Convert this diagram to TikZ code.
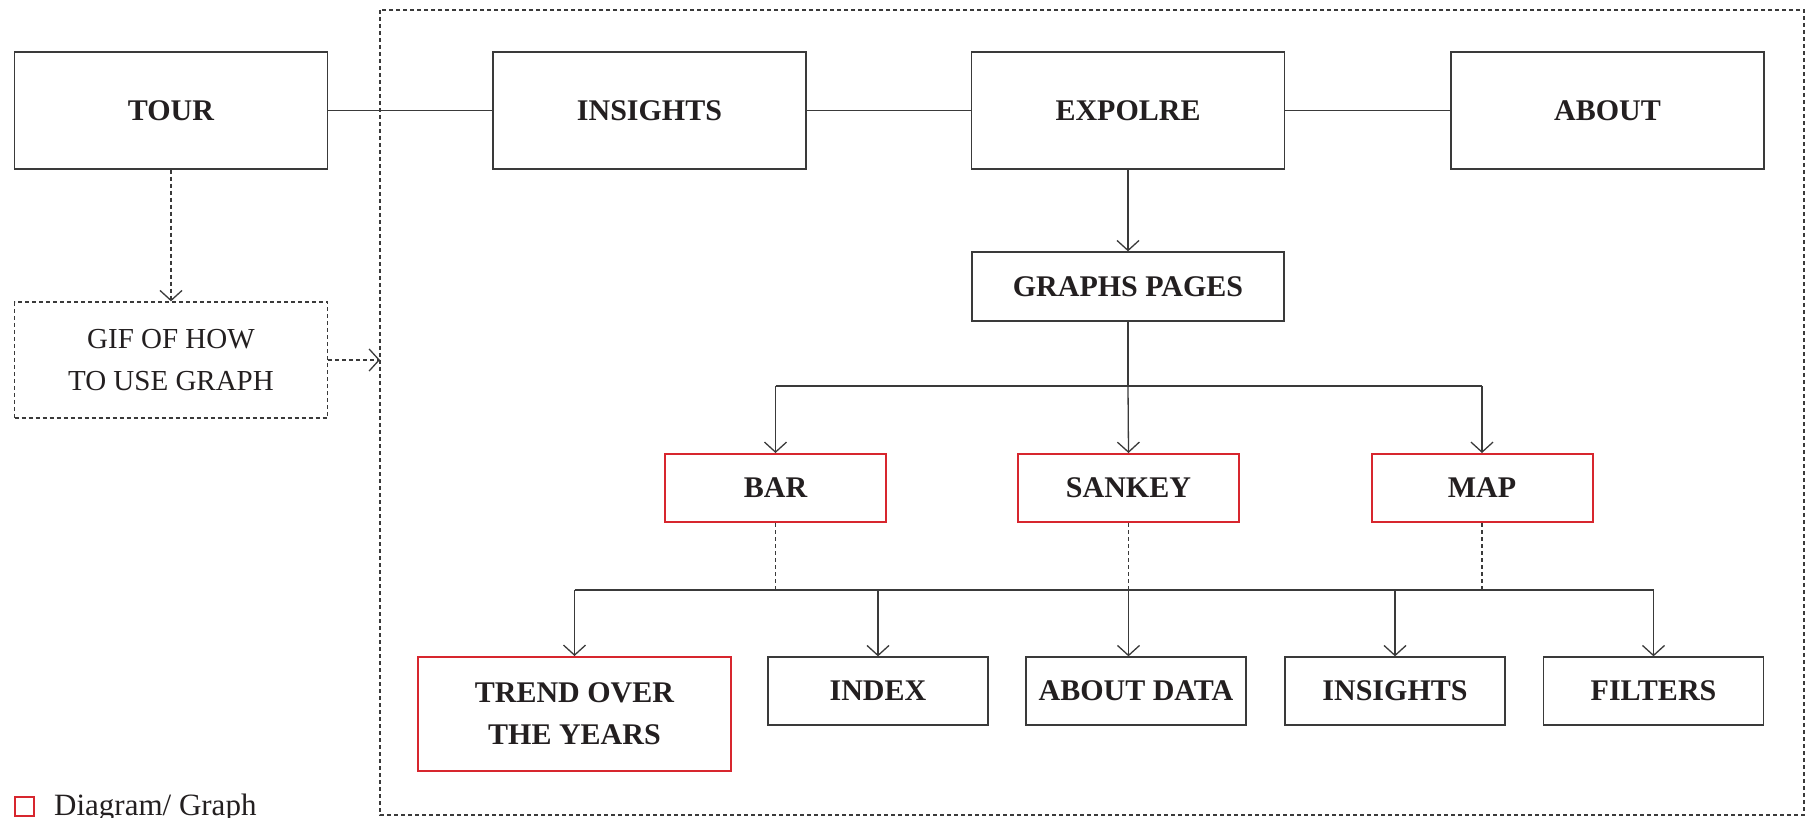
\documentclass[tikz,border=0pt]{standalone}
\usepackage{fontspec}
\setmainfont{Liberation Serif}
\usetikzlibrary{arrows.meta}
\definecolor{ink}{HTML}{231F20}
\definecolor{linec}{HTML}{3A3A3A}
\definecolor{redc}{HTML}{D7262E}
\begin{document}
\begin{tikzpicture}[x=1pt,y=-1pt,
  base/.style={draw=linec, line width=1.3pt, inner sep=0pt, text=ink, align=center,
    font=\fontsize{30}{42}\selectfont\bfseries},
  bigbox/.style={base, minimum width=313pt, minimum height=117pt},
  midbox/.style={base, minimum width=312pt, minimum height=69pt},
  smallbox/.style={base, minimum width=220pt, minimum height=68pt},
  redbox/.style={base, draw=redc, line width=2pt, minimum width=221pt, minimum height=68pt},
  gifbox/.style={base, dash pattern=on 4pt off 3pt, font=\fontsize{29}{42}\selectfont,
    minimum width=313pt, minimum height=116pt},
  conn/.style={draw=linec, line width=1.3pt},
  arr/.style={conn, -{Straight Barb[length=10pt,width=22pt]}},
  dsh/.style={conn, dash pattern=on 4pt off 3pt},
  darr/.style={dsh, -{Straight Barb[length=10pt,width=22pt]}},
]
\useasboundingbox (0,0) rectangle (1816,818);
% container
\draw[dsh] (380,10) rectangle (1804,815);
\coordinate (contL) at (380,360);

% top row
\node[bigbox] (tour) at (171,110.5) {TOUR};
\node[bigbox] (ins) at (649.5,110.5) {INSIGHTS};
\node[bigbox] (exp) at (1128,110.5) {EXPOLRE};
\node[bigbox] (about) at (1607.5,110.5) {ABOUT};
\node[gifbox] (gif) at (171,360) {GIF OF HOW\\TO USE GRAPH};

\draw[conn] (tour) -- (ins);
\draw[conn] (ins) -- (exp);
\draw[conn] (exp) -- (about);
\draw[darr] (tour) -- (gif);
\draw[darr] (gif.east) -- (contL);

% graphs
\node[midbox] (graphs) at (1128,286.5) {GRAPHS PAGES};
\draw[arr] (exp) -- (graphs);

\node[redbox] (bar) at (775.5,488) {BAR};
\node[redbox] (sankey) at (1128.5,488) {SANKEY};
\node[redbox] (map) at (1482,488) {MAP};

\coordinate (h1) at (1128,386);
\draw[conn] (graphs.south) -- (h1);
\draw[conn] (bar.north |- h1) -- (map.north |- h1);
\draw[arr] (bar.north |- h1) -- (bar.north);
\draw[arr] (h1) -- (sankey.north);
\draw[arr] (map.north |- h1) -- (map.north);

% bottom row
\node[base, draw=redc, line width=2pt, minimum width=313pt, minimum height=114pt] (trend) at (574.5,714) {TREND OVER\\THE YEARS};
\node[smallbox] (index) at (878,691) {INDEX};
\node[smallbox] (adata) at (1136,691) {ABOUT DATA};
\node[smallbox] (ins2) at (1395,691) {INSIGHTS};
\node[smallbox] (filt) at (1653.5,691) {FILTERS};

\coordinate (h2) at (1128,590);
\draw[dsh] (bar.south) -- (bar.south |- h2);
\draw[dsh] (sankey.south) -- (sankey.south |- h2);
\draw[dsh] (map.south) -- (map.south |- h2);
\draw[conn] (trend.north |- h2) -- (filt.north |- h2);
\draw[arr] (trend.north |- h2) -- (trend.north);
\draw[arr] (index.north |- h2) -- (index.north);
\draw[arr] (sankey.south |- h2) -- (sankey.south |- adata.north);
\draw[arr] (ins2.north |- h2) -- (ins2.north);
\draw[arr] (filt.north |- h2) -- (filt.north);

% legend
\node[draw=redc, line width=2pt, minimum size=19pt, inner sep=0pt] (leg) at (24,806) {};
\node[anchor=base west, inner sep=0pt, text=ink, font=\fontsize{31}{36}\selectfont] (legt) at (54,815) {Diagram/ Graph};
\end{tikzpicture}
\end{document}
